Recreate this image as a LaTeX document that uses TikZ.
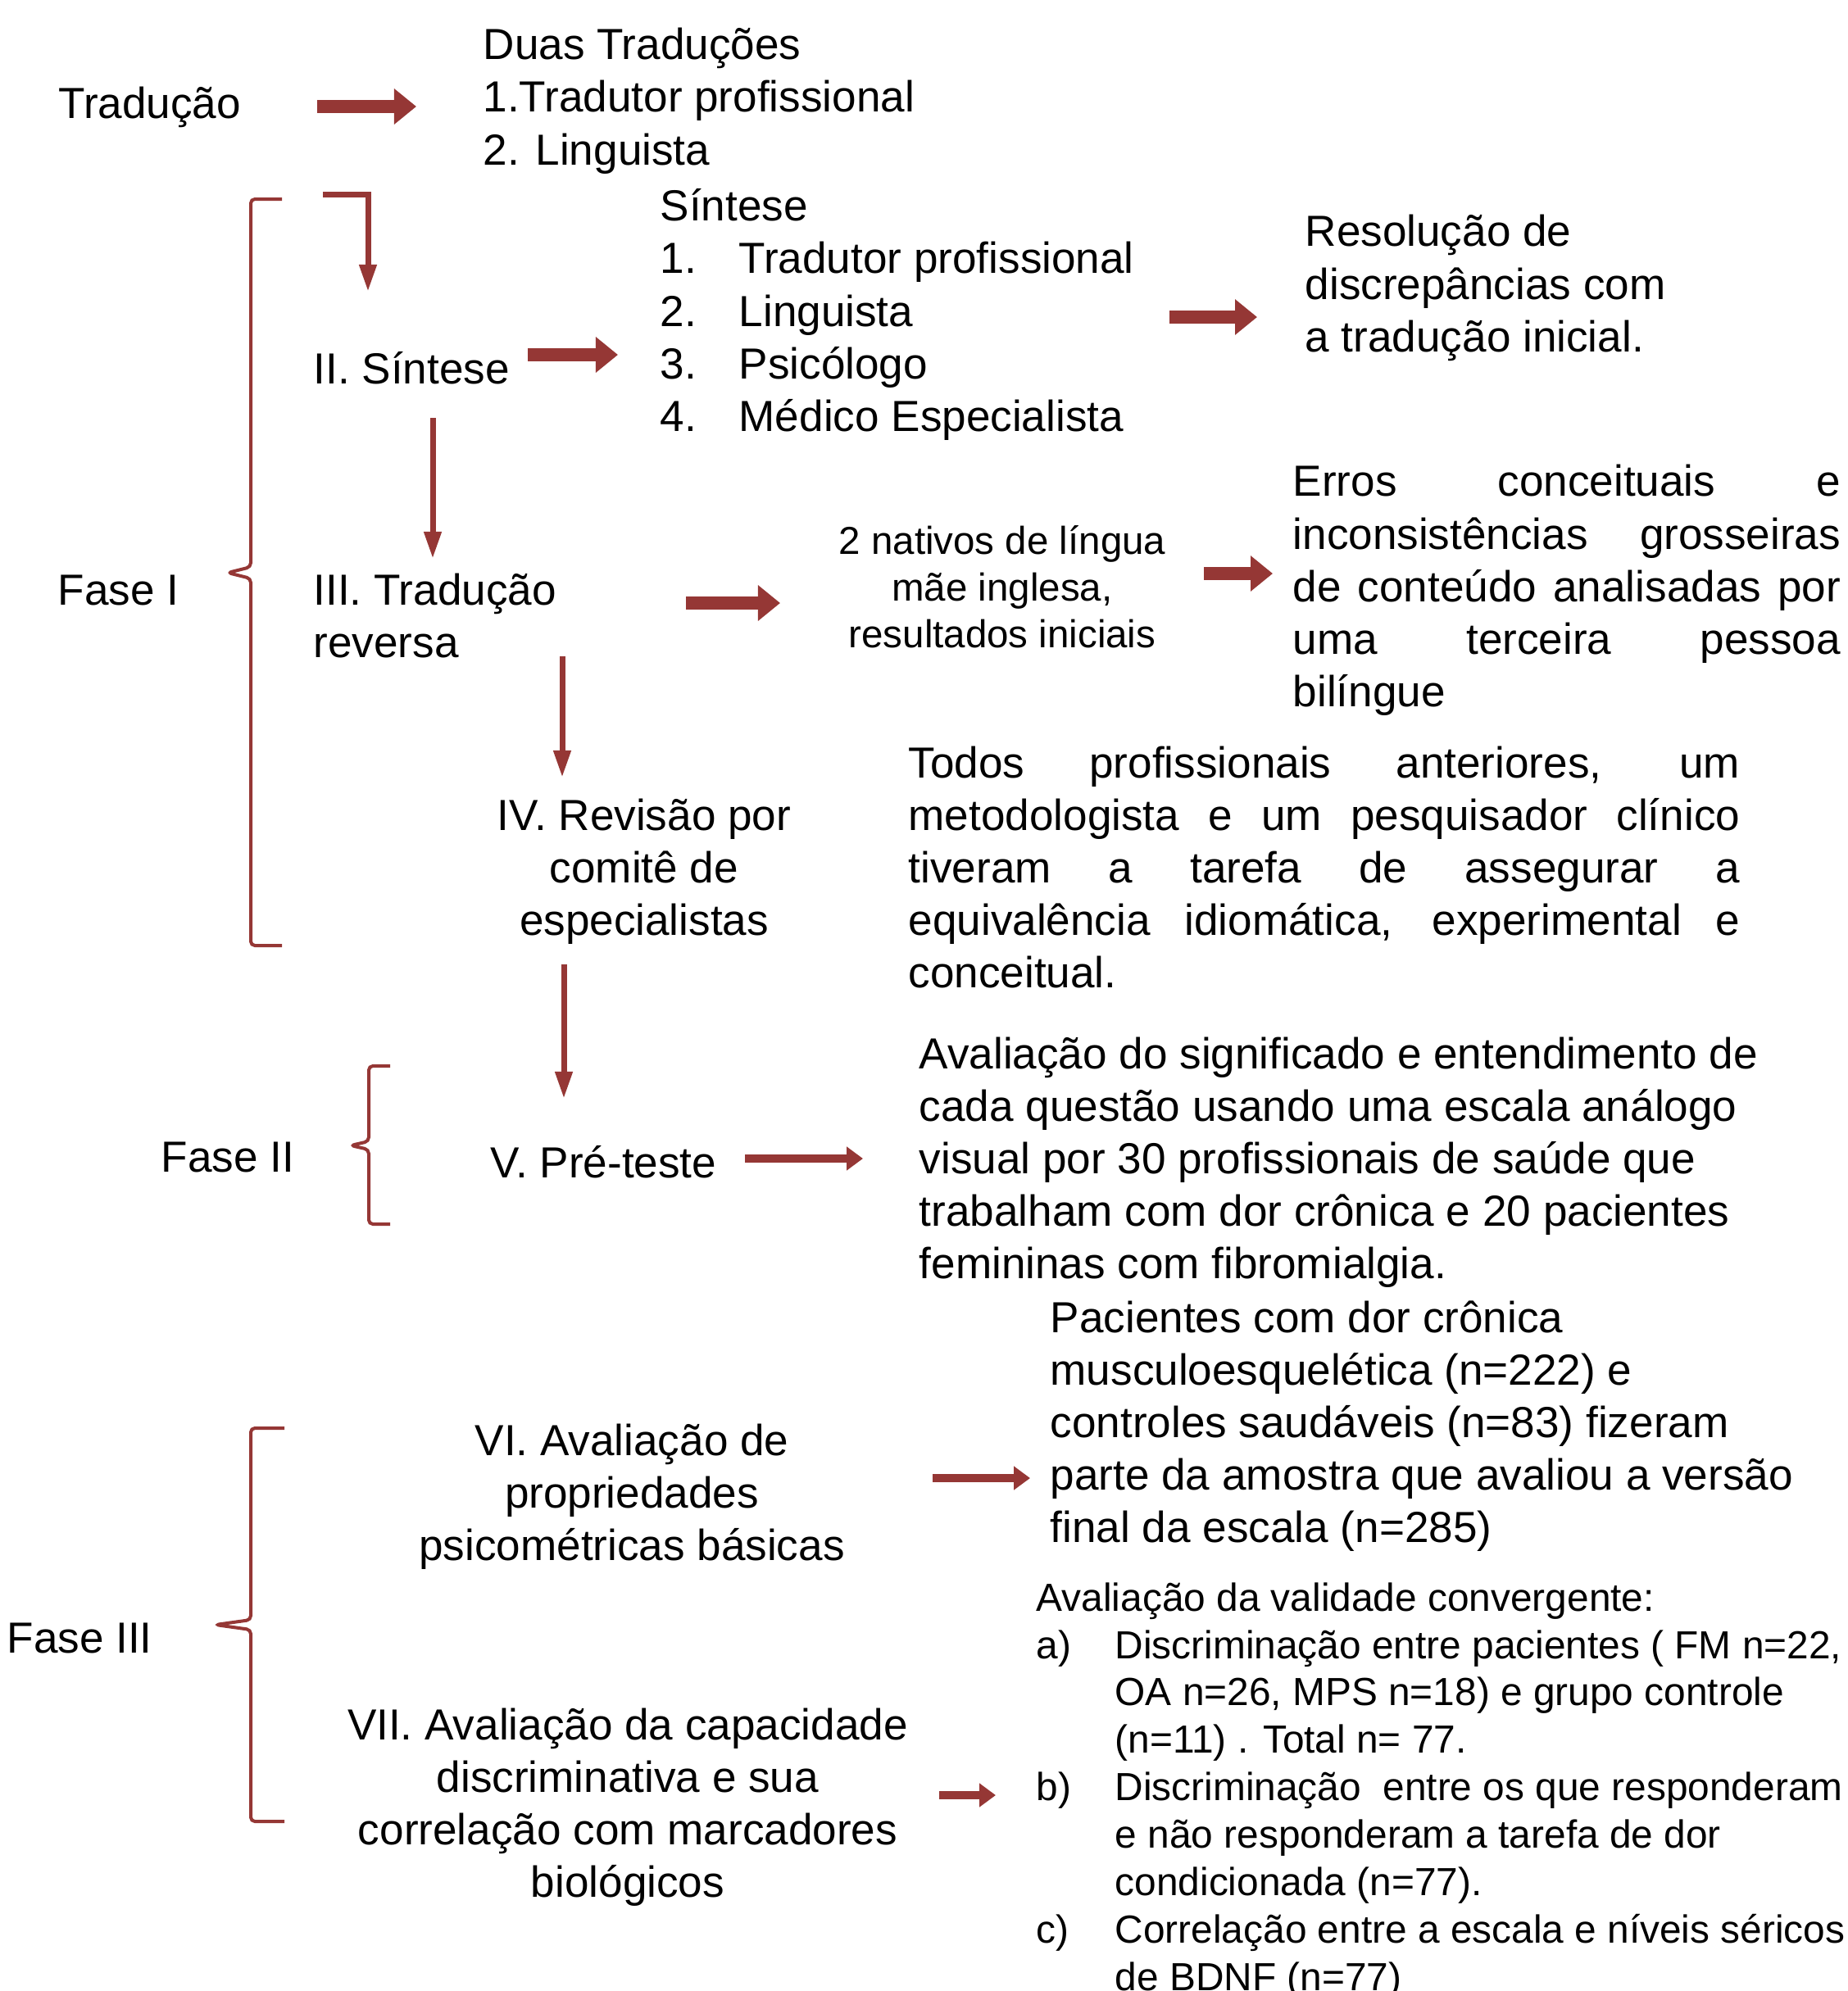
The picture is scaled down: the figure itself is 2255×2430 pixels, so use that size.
\documentclass[tikz,border=0pt]{standalone}
\usepackage{fontspec}
\setmainfont{Liberation Sans}
\usetikzlibrary{arrows.meta}
\definecolor{fasered}{RGB}{149,55,53}

\begin{document}
\begin{tikzpicture}[x=0.01cm, y=-0.01cm,
  txt/.style={inner sep=0pt, anchor=base west, align=left, font=\fontsize{15.1}{18.2}\selectfont},
  ctxt/.style={txt, anchor=base, align=center},
  small/.style={font=\fontsize{13.6}{16.45}\selectfont},
  bigarrow/.style={draw=fasered, line width=0.16cm, -{Triangle[length=0.27cm,width=0.42cm]}},
  midarrow/.style={draw=fasered, line width=0.10cm, -{Triangle[length=0.20cm,width=0.28cm]}},
  thinarrow/.style={draw=fasered, line width=0.07cm, -{Triangle[length=0.33cm,width=0.20cm]}},
  fasebrace/.style={draw=fasered, line width=0.04cm, rounded corners=0.05cm}]
  \useasboundingbox (0,0) rectangle (2255,2430);

  \node[txt] (trad) at (71,144) {Tradução};
  \node[txt] (duas) at (589,201) {Duas Traduções\\1.Tradutor profissional\\2. Linguista};
  \node[txt] (sint) at (382,468) {II. Síntese};
  \node[txt] (sintlist) at (805,526) {Síntese\\
    \makebox[0.96cm][l]{1.}Tradutor profissional\\
    \makebox[0.96cm][l]{2.}Linguista\\
    \makebox[0.96cm][l]{3.}Psicólogo\\
    \makebox[0.96cm][l]{4.}Médico Especialista};
  \node[txt] (resol) at (1592,429) {Resolução de\\discrepâncias com\\a tradução inicial.};
  \node[txt] (fase1) at (70,738) {Fase I};
  \node[txt] (rev) at (382,802) {III. Tradução\\reversa};
  \node[ctxt, font=\fontsize{13.5}{16.2}\selectfont] (nativos) at (1223,790) {2 nativos de língua\\mãe inglesa,\\resultados iniciais};
  \node[txt] (erros) at (1577,862) {\makebox[6.68cm][s]{Erros conceituais e}\\
    \makebox[6.68cm][s]{inconsistências grosseiras}\\
    \makebox[6.68cm][s]{de conteúdo analisadas por}\\
    \makebox[6.68cm][s]{uma terceira pessoa}\\
    bilíngue};
  \node[ctxt] (comite) at (786,1141) {IV. Revisão por\\comitê de\\especialistas};
  \node[txt] (todos) at (1108,1205) {\makebox[10.14cm][s]{Todos profissionais anteriores, um}\\
    \makebox[10.14cm][s]{metodologista e um pesquisador clínico}\\
    \makebox[10.14cm][s]{tiveram a tarefa de assegurar a}\\
    \makebox[10.14cm][s]{equivalência idiomática, experimental e}\\
    conceitual.};
  \node[txt] (fase2) at (196,1430) {Fase II};
  \node[txt] (preteste) at (598,1437) {V. Pré-teste};
  \node[txt] (signif) at (1121,1560) {Avaliação do significado e entendimento de\\
    cada questão usando uma escala análogo\\
    visual por 30 profissionais de saúde que\\
    trabalham com dor crônica e 20 pacientes\\
    femininas com fibromialgia.};
  \node[ctxt] (psico) at (771,1904) {VI. Avaliação de\\propriedades\\psicométricas básicas};
  \node[txt] (pacientes) at (1281,1882) {Pacientes com dor crônica\\
    musculoesquelética (n=222) e\\
    controles saudáveis (n=83) fizeram\\
    parte da amostra que avaliou a versão\\
    final da escala (n=285)};
  \node[txt] (fase3) at (8,2017) {Fase III};
  \node[ctxt] (discr) at (766,2315) {VII. Avaliação da capacidade\\discriminativa e sua\\correlação com marcadores\\biológicos};
  \node[txt, small] (conv) at (1264,2429) {Avaliação da validade convergente:\\
    \makebox[0.96cm][l]{a)}Discriminação entre pacientes ( FM n=22,\\
    \hspace*{0.96cm}OA n=26, MPS n=18) e grupo controle\\
    \hspace*{0.96cm}(n=11) . Total n= 77.\\
    \makebox[0.96cm][l]{b)}Discriminação\ \ entre os que responderam\\
    \hspace*{0.96cm}e não responderam a tarefa de dor\\
    \hspace*{0.96cm}condicionada (n=77).\\
    \makebox[0.96cm][l]{c)}Correlação entre a escala e níveis séricos\\
    \hspace*{0.96cm}de BDNF (n=77)};

  \coordinate (trad-s) at (387,130);   \coordinate (trad-e) at (508,130);
  \coordinate (back-s) at (394,237);   \coordinate (back-e) at (449,356);
  \coordinate (sint-s) at (644,433);   \coordinate (sint-e) at (754,433);
  \coordinate (list-s) at (1427,387);  \coordinate (list-e) at (1534,387);
  \coordinate (down1-s) at (528,510);  \coordinate (down1-e) at (528,682);
  \coordinate (rev-s) at (837,736);    \coordinate (rev-e) at (952,736);
  \coordinate (nat-s) at (1469,700);   \coordinate (nat-e) at (1553,700);
  \coordinate (down2-s) at (686,801);  \coordinate (down2-e) at (686,949);
  \coordinate (down3-s) at (688,1177); \coordinate (down3-e) at (688,1341);
  \coordinate (pre-s) at (909,1414);   \coordinate (pre-e) at (1053,1414);
  \coordinate (psi-s) at (1138,1804);  \coordinate (psi-e) at (1257,1804);
  \coordinate (dis-s) at (1146,2191);  \coordinate (dis-e) at (1215,2191);

  \draw[bigarrow] (trad-s) -- (trad-e);
  \draw[thinarrow] (back-s) -| (back-e);
  \draw[bigarrow] (sint-s) -- (sint-e);
  \draw[bigarrow] (list-s) -- (list-e);
  \draw[thinarrow] (down1-s) -- (down1-e);
  \draw[bigarrow] (rev-s) -- (rev-e);
  \draw[bigarrow] (nat-s) -- (nat-e);
  \draw[thinarrow] (down2-s) -- (down2-e);
  \draw[thinarrow] (down3-s) -- (down3-e);
  \draw[midarrow] (pre-s) -- (pre-e);
  \draw[midarrow] (psi-s) -- (psi-e);
  \draw[midarrow] (dis-s) -- (dis-e);

  \draw[fasebrace] (344,243) -- (306,243) -- (306,692) -- (278,699) -- (306,706) -- (306,1154) -- (344,1154);
  \draw[fasebrace] (476,1301) -- (450,1301) -- (450,1393) -- (428,1398) -- (450,1403) -- (450,1494) -- (476,1494);
  \draw[fasebrace] (347,1743) -- (306,1743) -- (306,1977) -- (263,1983) -- (306,1989) -- (306,2223) -- (347,2223);
\end{tikzpicture}
\end{document}
